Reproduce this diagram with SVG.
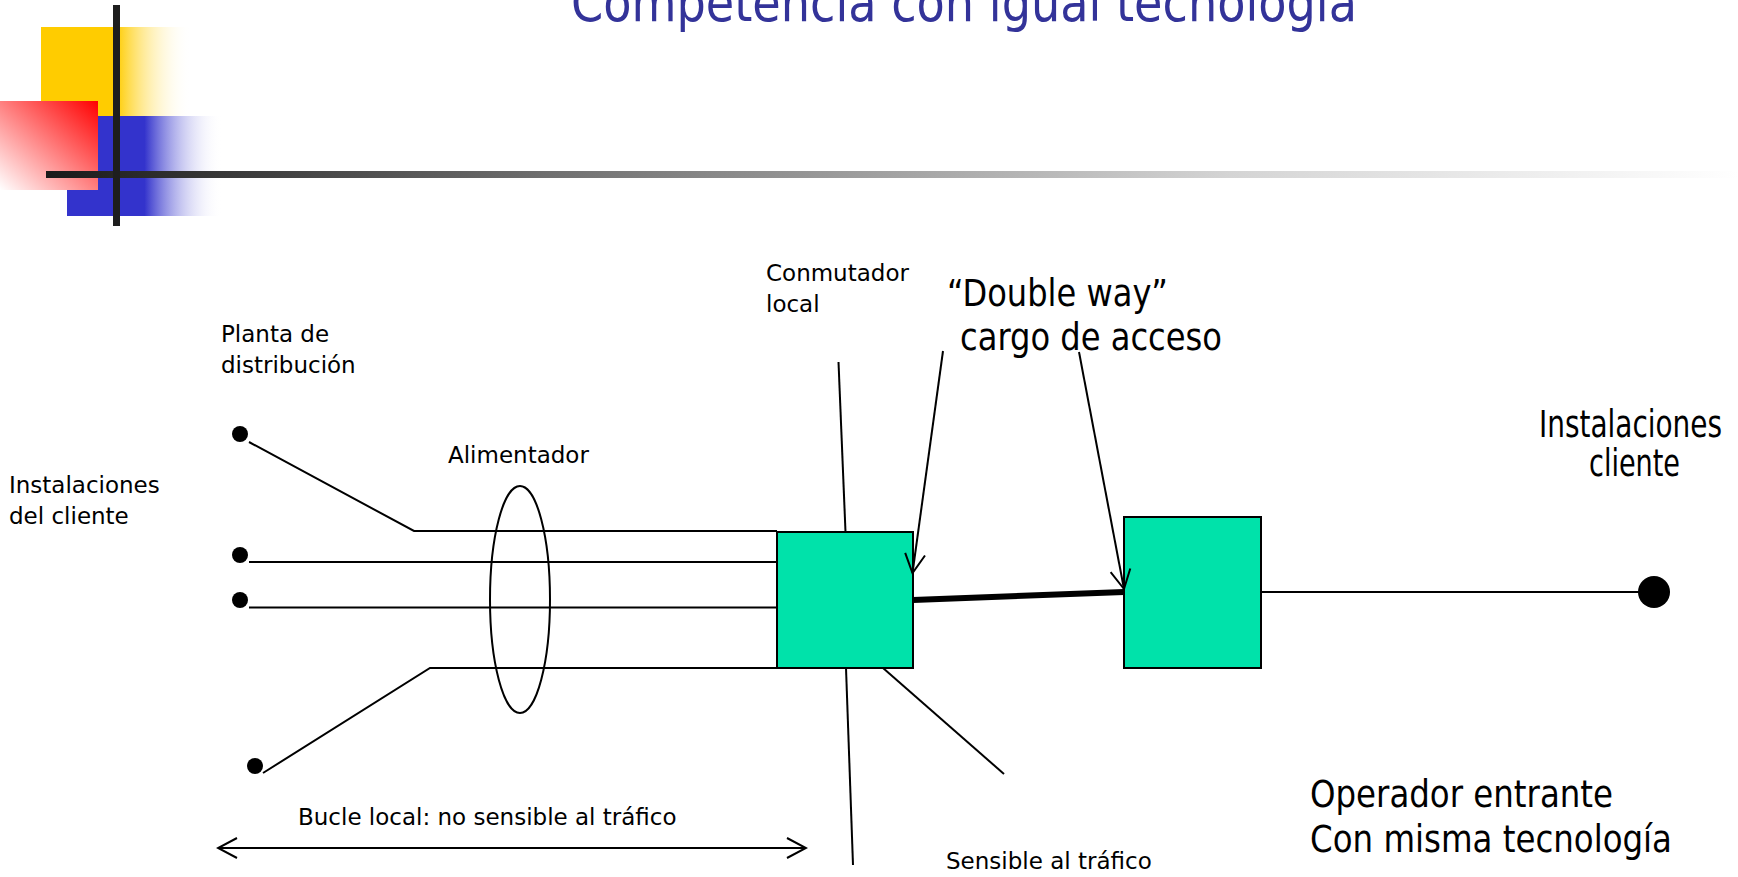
<svg xmlns="http://www.w3.org/2000/svg" width="1738" height="877" viewBox="0 0 1738 877">
<defs>
<linearGradient id="gYellow" x1="0" y1="0" x2="1" y2="0">
<stop offset="0" stop-color="#FFCC00"/><stop offset="0.5" stop-color="#FFCC00"/><stop offset="1" stop-color="#FFFFFF" stop-opacity="0"/>
</linearGradient>
<linearGradient id="gBlue" x1="0" y1="0" x2="1" y2="0">
<stop offset="0" stop-color="#3333CC"/><stop offset="0.5" stop-color="#3333CC"/><stop offset="1" stop-color="#FFFFFF" stop-opacity="0"/>
</linearGradient>
<linearGradient id="gRed" x1="1" y1="0" x2="0" y2="1">
<stop offset="0" stop-color="#FF0000"/><stop offset="1" stop-color="#FFFFFF"/>
</linearGradient>
<linearGradient id="gRule" gradientUnits="userSpaceOnUse" x1="46" y1="0" x2="1738" y2="0">
<stop offset="0" stop-color="#1a1a1a"/><stop offset="0.3" stop-color="#707070"/><stop offset="0.7" stop-color="#d4d4d4"/><stop offset="1" stop-color="#FFFFFF"/>
</linearGradient>
<marker id="chev" markerUnits="userSpaceOnUse" markerWidth="24" markerHeight="26" viewBox="-22 -13 24 26" refX="0" refY="0" orient="auto-start-reverse">
<path d="M-19,-10 L0,0 L-19,10" fill="none" stroke="#000" stroke-width="2"/>
</marker>
</defs>
<style>
.ln{stroke:#000;stroke-width:2;fill:none}
.box{fill:#00E2AA;stroke:#000;stroke-width:2}
.dot{fill:#000}
.sm{font-family:"DejaVu Sans","Verdana",sans-serif;font-size:23px;fill:#000}
.bg{font-family:"DejaVu Sans Condensed","DejaVu Sans",sans-serif;font-size:37px;fill:#000}
.ttl{font-family:"DejaVu Sans Condensed","DejaVu Sans",sans-serif;font-size:53px;fill:#333399}
</style>
<rect width="1738" height="877" fill="#FFFFFF"/>
<g id="logo">
<rect x="41" y="27" width="150" height="89" fill="url(#gYellow)"/>
<rect x="67" y="116" width="155" height="100" fill="url(#gBlue)"/>
<rect x="0" y="101" width="98" height="89" fill="url(#gRed)"/>
<rect x="46" y="171" width="1692" height="7" fill="url(#gRule)"/>
<rect x="113" y="5" width="7" height="221" fill="#1e1e1e"/>
</g>
<g id="title">
<text class="ttl" x="571" y="21" textLength="786" lengthAdjust="spacingAndGlyphs">Competencia con igual tecnologia</text>
</g>
<g id="labels">
<text class="sm" x="221" y="342">Planta de</text>
<text class="sm" x="221" y="373">distribución</text>
<text class="sm" x="9" y="493">Instalaciones</text>
<text class="sm" x="9" y="524">del cliente</text>
<text class="sm" x="448" y="463">Alimentador</text>
<text class="sm" x="766" y="281">Conmutador</text>
<text class="sm" x="766" y="312">local</text>
<text class="sm" x="298" y="825">Bucle local: no sensible al tráfico</text>
<text class="sm" x="946" y="869">Sensible al tráfico</text>
<text class="bg" x="947" y="306" textLength="221" lengthAdjust="spacingAndGlyphs">“Double way”</text>
<text class="bg" x="960" y="350" textLength="262" lengthAdjust="spacingAndGlyphs">cargo de acceso</text>
<text class="bg" x="1539" y="437" font-size="31" textLength="183" lengthAdjust="spacingAndGlyphs">Instalaciones</text>
<text class="bg" x="1589" y="476" font-size="31" textLength="91" lengthAdjust="spacingAndGlyphs">cliente</text>
<text class="bg" x="1310" y="807" textLength="303" lengthAdjust="spacingAndGlyphs">Operador entrante</text>
<text class="bg" x="1310" y="852" textLength="362" lengthAdjust="spacingAndGlyphs">Con misma tecnología</text>
</g>
<g id="local-switch"><rect class="box" x="777" y="532" width="136" height="136"/></g>
<g id="entrant-switch"><rect class="box" x="1124" y="517" width="137" height="151"/></g>
<g id="customer-dots">
<circle class="dot" cx="240" cy="434" r="8"/>
<circle class="dot" cx="240" cy="555" r="8"/>
<circle class="dot" cx="240" cy="600" r="8"/>
<circle class="dot" cx="255" cy="766" r="8"/>
</g>
<g id="customer-right"><circle class="dot" cx="1654" cy="592" r="16"/></g>
<g id="feeder"><ellipse class="ln" cx="520" cy="599.5" rx="30" ry="113.5"/></g>
<g id="connectors">
<polyline class="ln" points="249,442 414,531 777,531"/>
<line class="ln" x1="249" y1="562" x2="777" y2="562"/>
<line class="ln" x1="249" y1="607.5" x2="777" y2="607.5"/>
<polyline class="ln" points="263,773 430,668 777,668"/>
<line class="ln" x1="838.5" y1="362" x2="845.5" y2="532"/>
<line class="ln" x1="846" y1="668" x2="853" y2="865"/>
<line class="ln" x1="883" y1="668" x2="1004" y2="774"/>
<line class="ln" x1="943" y1="351" x2="912.5" y2="573" marker-end="url(#chev)"/>
<line class="ln" x1="1079" y1="352" x2="1124" y2="589" marker-end="url(#chev)"/>
<line x1="913" y1="600" x2="1124" y2="592" stroke="#000" stroke-width="6"/>
<line class="ln" x1="1261" y1="592" x2="1654" y2="592"/>
<line class="ln" x1="218" y1="848" x2="806" y2="848" marker-start="url(#chev)" marker-end="url(#chev)"/>
</g>
</svg>
